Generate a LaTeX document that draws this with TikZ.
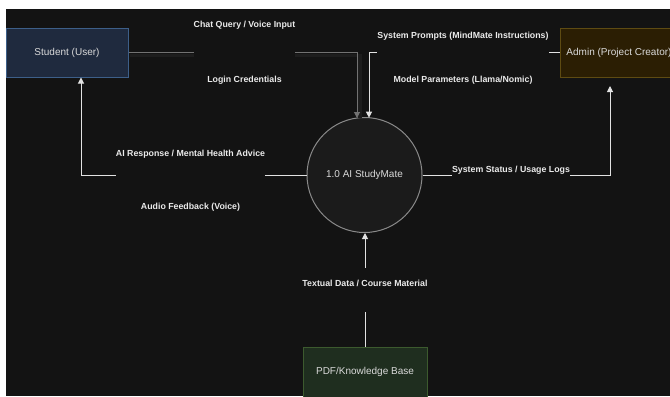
\documentclass[tikz,border=0pt]{standalone}
\usepackage{fontspec}
\setmainfont{Liberation Sans}
\usetikzlibrary{arrows.meta}
\definecolor{bg}{HTML}{131313}
\definecolor{stufill}{HTML}{1F2A3E}
\definecolor{stuborder}{HTML}{3D5F89}
\definecolor{admfill}{HTML}{2B1E03}
\definecolor{admborder}{HTML}{5E4B12}
\definecolor{pdffill}{HTML}{1F2E1F}
\definecolor{pdfborder}{HTML}{3C5A2E}
\definecolor{circfill}{HTML}{1B1B1B}
\definecolor{circborder}{HTML}{8A8A8A}
\definecolor{edgewhite}{HTML}{E2E2E2}
\definecolor{edgegray}{HTML}{727272}
\definecolor{shadowc}{HTML}{1D1D1D}
\definecolor{lbltext}{HTML}{EBEBEB}
\definecolor{nodetext}{HTML}{DADADA}
\begin{document}
\begin{tikzpicture}[x=0.75pt,y=-0.75pt,
  box/.style={draw, line width=0.75pt, minimum width=91.5pt, minimum height=36.75pt, inner sep=0pt, font=\fontsize{7.5}{9}\selectfont, text=nodetext},
  flow/.style={draw=edgewhite, line width=0.75pt, -{Triangle[length=4.5pt,width=4.5pt]}},
  shadowline/.style={draw=shadowc, line width=2.5pt},
  lbl/.style={fill=bg, inner sep=0pt, text=lbltext, font=\fontsize{6.6}{8}\selectfont\bfseries, align=center}]
\useasboundingbox (0,0) rectangle (670,396);
\clip (0,0) rectangle (670,396);
\fill[white] (0,0) rectangle (670,396);
\fill[bg] (6,9) rectangle (670,396);

% nodes
\node[box, fill=stufill, draw=stuborder] (stu) at (67,52.5) {Student (User)};
\node[box, fill=admfill, draw=admborder, minimum width=88.5pt] (adm) at (619,52.5) {Admin (Project Creator)};
\node[box, fill=pdffill, draw=pdfborder, minimum width=93pt, minimum height=37.5pt] (pdf) at (365,372) {PDF/Knowledge Base};
\node[circle, draw=circborder, fill=circfill, line width=0.75pt, minimum size=86.25pt, inner sep=0pt, font=\fontsize{7.5}{9}\selectfont, text=nodetext] (proc) at (364.5,175) {1.0 AI StudyMate};

% coordinates
\coordinate (chatTurn) at (357,52.5);
\coordinate (chatIn) at (357,118);
\coordinate (sysTurn) at (369,52.5);
\coordinate (sysIn) at (369,117.7);
\coordinate (aiTurn) at (81,175);
\coordinate (stuIn) at (81,77.5);
\coordinate (statTurn) at (610,175);
\coordinate (admIn) at (610,86);

% chat edge shadow
\draw[shadowline] ([shift={(1,3)}]stu.east) -- ([shift={(3,3)}]chatTurn) -- ([shift={(3,0)}]chatIn);

% connectors
\draw[flow, draw=edgegray] (stu.east) -- (chatTurn) -- (chatIn);
\draw[flow] (adm.west) -- (sysTurn) -- (sysIn);
\draw[flow] (proc.west) -- (aiTurn) -- (stuIn);
\draw[flow] (proc.east) -- (statTurn) -- (admIn);
\draw[flow] (pdf.north) -- (pdf.north |- proc.south);

% labels
\node[lbl] (lChat) at (244.5,52.5) {Chat Query / Voice Input\\[33pt]Login Credentials};
\node[lbl] (lSys) at (463,58) {System Prompts (MindMate Instructions)\\[25pt]Model Parameters (Llama/Nomic)};
\node[lbl] (lAI) at (190.5,180.5) {AI Response / Mental Health Advice\\[31.75pt]Audio Feedback (Voice)};
\node[lbl, inner ysep=1.6pt] (lStat) at (511,170) {System Status / Usage Logs};
\node[lbl, anchor=base, text height=13.65pt, text depth=19.35pt] (lText) at (365,286.2) {Textual Data / Course Material};
\end{tikzpicture}
\end{document}
